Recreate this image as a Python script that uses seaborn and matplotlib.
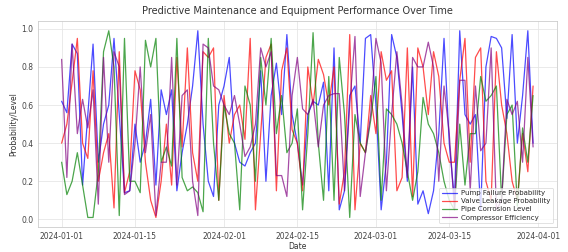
#!/usr/bin/env python3
"""
Predictive maintenance chart - four equipment signals over Q1 2024
"""

import pandas as pd
import matplotlib
matplotlib.use('Agg')
import matplotlib.pyplot as plt
import matplotlib.dates as mdates
import seaborn as sns

# Daily readings, 2024-01-01 .. 2024-03-31
dates = pd.date_range('2024-01-01', periods=91, freq='D')

pump_failure = [
    .62, .56, .92, .87, .18, .55, .92, .30, .50, .60, .95, .55, .14, .15, .50, .30, .40, .63, .18, .68, .55,
    .68, .15, .35, .50, .70, .99, .50, .20, .12, .60, .70, .85, .40, .30, .28, .35, .40, .78, .20, .65, .82, .55,
    .97, .55, .40, .18, .55, .62, .60, .72, .15, .90, .05, .15, .65, .70, .40, .95, .97, .60, .05, .30, .97, .85, .55, .20,
    .80, .08, .15, .03, .15, .45, .95, .40, .10, .99, .55, .50, .55, .05, .80, .96, .95, .90, .53, .97, .40, .65, .99, .40,
]
valve_leakage = [
    .40, .50, .72, .95, .40, .32, .78, .20, .35, .45, .06, .88, .14, .25, .78, .68, .30, .10, .01, .20, .50,
    .18, .85, .38, .90, .35, .20, .88, .85, .90, .10, .65, .40, .55, .60, .42, .95, .05, .45, .85, .92, .15, .78,
    .90, .47, .40, .15, .80, .60, .84, .76, .60, .80, .08, .25, .97, .05, .40, .35, .65, .45, .88, .73, .78, .15, .22, .90,
    .12, .90, .80, .55, .88, .75, .40, .30, .30, .73, .95, .30, .85, .90, .20, .10, .88, .60, .45, .20, .10, .45, .25, .70,
]
pipe_corrosion = [
    .30, .13, .20, .35, .18, .01, .01, .25, .88, .99, .80, .02, .95, .20, .20, .14, .94, .80, .95, .30, .38,
    .28, .95, .22, .15, .17, .14, .04, .95, .40, .10, .60, .45, .40, .05, .70, .60, .20, .85, .60, .95, .45, .65,
    .35, .40, .58, .05, .45, .98, .40, .10, .75, .10, .85, .55, .01, .55, .40, .35, .52, .75, .10, .58, .55, .50, .40, .25,
    .10, .25, .64, .50, .45, .35, .20, .10, .05, .50, .18, .45, .45, .75, .62, .65, .70, .10, .55, .60, .07, .48, .30, .65,
]
compressor_eff = [
    .84, .22, .92, .45, .63, .48, .68, .08, .85, .30, .88, .80, .13, .15, .40, .80, .35, .55, .02, .30, .30,
    .85, .18, .65, .68, .20, .02, .92, .90, .70, .68, .60, .55, .65, .50, .33, .38, .50, .90, .80, .88, .23, .23,
    .12, .65, .85, .58, .55, .63, .38, .60, .65, .66, .66, .15, .60, .96, .12, .35, .55, .95, .82, .15, .55, .88, .60, .22,
    .85, .80, .80, .93, .80, .20, .70, .45, .05, .73, .73, .15, .70, .36, .40, .90, .05, .10, .63, .55, .62, .30, .85, .38,
]

series_names = ['Pump Failure Probability', 'Valve Leakage Probability',
                'Pipe Corrosion Level', 'Compressor Efficiency']
series_colors = ['blue', 'red', 'green', 'purple']

df = pd.DataFrame({
    'Date': dates,
    series_names[0]: pump_failure,
    series_names[1]: valve_leakage,
    series_names[2]: pipe_corrosion,
    series_names[3]: compressor_eff,
})
long_df = df.melt(id_vars='Date', var_name='Series', value_name='Value')

sns.set_theme(style='whitegrid')
plt.rcParams['font.family'] = ['DejaVu Sans']

fig = plt.figure(figsize=(5.68, 2.52), dpi=100)
ax = fig.add_axes([0.067, 0.1, 0.913, 0.815])

sns.lineplot(data=long_df, x='Date', y='Value', hue='Series',
             hue_order=series_names, palette=dict(zip(series_names, series_colors)),
             linewidth=0.9, alpha=0.7, ax=ax)

ax.set_title('Predictive Maintenance and Equipment Performance Over Time',
             fontsize=7, color='#333333', pad=5)
ax.set_xlabel('Date', fontsize=5.5, color='#333333', labelpad=1)
ax.set_ylabel('Probability/Level', fontsize=5.5, color='#333333', labelpad=2)
ax.xaxis.set_major_locator(mdates.DayLocator(bymonthday=[1, 15]))
ax.xaxis.set_major_formatter(mdates.DateFormatter('%Y-%m-%d'))
ax.tick_params(axis='both', labelsize=5.5, colors='#444444', length=2, pad=1.5)
ax.grid(True, color='#e6e6e6', linewidth=0.6)
for s in ax.spines.values():
    s.set_color('#cccccc')
    s.set_linewidth(0.6)

leg = ax.legend(loc='lower right', fontsize=5, frameon=True, handlelength=2.2,
                borderpad=0.4, labelspacing=0.3, handletextpad=0.6)
leg.get_frame().set_linewidth(0.5)

plt.savefig('out.png', dpi=100)
